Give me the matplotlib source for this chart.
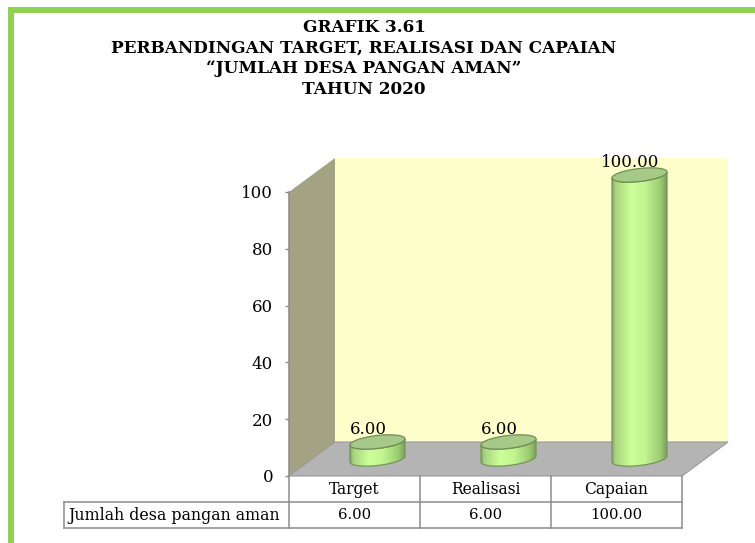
import numpy as np
import matplotlib
matplotlib.use("Agg")
import matplotlib.pyplot as plt
from matplotlib.patches import Polygon, Rectangle
from matplotlib.colors import LinearSegmentedColormap
from matplotlib.lines import Line2D
from matplotlib import transforms

# ---- data ----
categories = ["Target", "Realisasi", "Capaian"]
values = [6.00, 6.00, 100.00]
series_name = "Jumlah desa pangan aman"
yticks = [0, 20, 40, 60, 80, 100]
title_lines = [
    "GRAFIK 3.61",
    "PERBANDINGAN TARGET, REALISASI DAN CAPAIAN",
    "\u201cJUMLAH DESA PANGAN AMAN\u201d",
    "TAHUN 2020",
]

W, H = 755, 543
fig = plt.figure(figsize=(W / 100, H / 100), dpi=100)
fig.patch.set_facecolor("white")


def fx(x):
    return x / W


def fy(y):
    return 1 - y / H


SERIF = "DejaVu Serif"

# frame accent (green border on top and left)
green = "#92D050"
fig.patches.append(Rectangle((fx(8), fy(13)), fx(747), 6 / H, transform=fig.transFigure,
                             facecolor=green, edgecolor="none", zorder=0))
fig.patches.append(Rectangle((fx(8), 0), 6 / W, fy(7), transform=fig.transFigure,
                             facecolor=green, edgecolor="none", zorder=0))

# title
for i, line in enumerate(title_lines):
    fig.text(fx(364), fy(27 + i * 20.7), line, ha="center", va="center",
             fontsize=12.2, fontweight="bold", family=SERIF, color="black")

# ---- plotting area (front plane of the 3-D box) ----
left_px, right_px, top_px, bot_px = 289, 682, 192, 476
ax = fig.add_axes([fx(left_px), fy(bot_px), (right_px - left_px) / W, (bot_px - top_px) / H])
ax.set_facecolor("none")

# depth offset of the box in data units
xr = (len(categories)) / (right_px - left_px)   # data per pixel, x
yr = 100 / (bot_px - top_px)                    # data per pixel, y
ddx = 46 * xr
ddy = 34 * yr
x0, x1 = -0.5, len(categories) - 0.5

wall_col = "#A3A282"
back_col = "#FFFFCC"
floor_col = "#B4B4B4"
ax.add_patch(Polygon([(x0 + ddx, ddy), (x1 + ddx, ddy), (x1 + ddx, 100 + ddy), (x0 + ddx, 100 + ddy)],
                     closed=True, facecolor=back_col, edgecolor="none", clip_on=False, zorder=0))
ax.add_patch(Polygon([(x0, 0), (x0 + ddx, ddy), (x0 + ddx, 100 + ddy), (x0, 100)],
                     closed=True, facecolor=wall_col, edgecolor="none", clip_on=False, zorder=0.5))
ax.add_patch(Polygon([(x0, 0), (x1, 0), (x1 + ddx, ddy), (x0 + ddx, ddy)],
                     closed=True, facecolor=floor_col, edgecolor="#9A9A9A", linewidth=0.8,
                     clip_on=False, zorder=0.6))

# cylinders
body_cmap = LinearSegmentedColormap.from_list(
    "cyl",
    [(0.0, "#7FA85E"), (0.06, "#A9D47F"), (0.35, "#CCFF99"), (0.6, "#C2F590"),
     (0.88, "#9BCB72"), (1.0, "#7C9E5E")])
a = 27.5 * xr        # half width
b = 6.5 * yr         # half height of the ellipses
sh = 3.0 * yr        # slight tilt of the ellipses
t = np.linspace(0, 2 * np.pi, 200)
for i, v in enumerate(values):
    cx = i + ddx / 2
    base = ddy / 2
    top = v + ddy / 2

    def ell(y0, ts):
        return np.column_stack([cx + a * np.cos(ts), y0 + b * np.sin(ts) + sh * np.cos(ts)])

    lower = np.linspace(np.pi, 2 * np.pi, 100)
    body_pts = np.vstack([ell(top, lower), ell(base, lower[::-1])])
    body = Polygon(body_pts, closed=True, facecolor="none", edgecolor="none",
                   clip_on=False, zorder=2)
    ax.add_patch(body)
    grad = np.linspace(0, 1, 256).reshape(1, -1)
    im = ax.imshow(grad, cmap=body_cmap, aspect="auto", interpolation="bilinear",
                   extent=[cx - a, cx + a, base - b - sh - 1, top + b + sh + 1],
                   zorder=2)
    im.set_clip_box(fig.bbox)
    im.set_clip_path(body)
    ax.add_patch(Polygon(body_pts, closed=True, facecolor="none", edgecolor="#76965A",
                         linewidth=0.9, clip_on=False, zorder=3))
    ax.add_patch(Polygon(ell(top, t), closed=True, facecolor="#A6C987", edgecolor="#6F8E55",
                         linewidth=0.9, clip_on=False, zorder=4))
    ax.annotate(f"{v:.2f}", xy=(cx, top), xytext=(-6.5, 5.8), textcoords="offset points",
                ha="center", va="baseline", fontsize=12, family=SERIF, color="black",
                zorder=5, annotation_clip=False)

ax.set_xlim(x0, x1)
ax.set_ylim(0, 100)

# axes styling
for s in ["top", "right", "bottom"]:
    ax.spines[s].set_visible(False)
ax.spines["left"].set_color("#8A8A8A")
ax.spines["left"].set_linewidth(1.1)
ax.set_xticks([])
ax.set_yticks(yticks)
ax.set_yticklabels([str(v) for v in yticks], family=SERIF, fontsize=12)
ax.tick_params(axis="y", length=3, width=1, color="#8A8A8A", pad=8.5)

# ---- data table under the chart ----
tcol = "#8C8C8C"
blend = transforms.blended_transform_factory(ax.transData, fig.transFigure)
row1_top, row_mid, row_bot = 476, 502, 528
bounds = [x0 + k for k in range(len(categories) + 1)]
for xb in bounds:
    fig.add_artist(Line2D([xb, xb], [fy(row1_top), fy(row_bot)], transform=blend,
                          color=tcol, linewidth=1.1))
lab_left = 64
for yy in (row_mid, row_bot):
    fig.add_artist(Line2D([fx(lab_left), fx(right_px)], [fy(yy), fy(yy)],
                          transform=fig.transFigure, color=tcol, linewidth=1.1))
fig.add_artist(Line2D([fx(lab_left), fx(lab_left)], [fy(row_mid), fy(row_bot)],
                      transform=fig.transFigure, color=tcol, linewidth=1.1))

for i, (c, v) in enumerate(zip(categories, values)):
    fig.text(i, fy(490), c, transform=blend, ha="center", va="center",
             fontsize=11.2, family=SERIF, color="black")
    fig.text(i, fy(515), f"{v:.2f}", transform=blend, ha="center", va="center",
             fontsize=10.7, family=SERIF, color="black")
fig.text(fx(68), fy(515), series_name, ha="left", va="center",
         fontsize=11.4, family=SERIF, color="black")

fig.savefig("out.png", dpi=100)
